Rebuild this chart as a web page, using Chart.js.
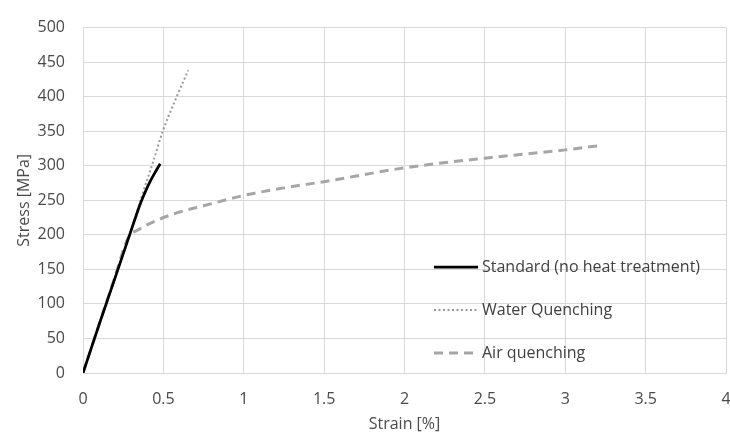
<!DOCTYPE html>
<html>
<head>
<meta charset="utf-8">
<script src="https://cdn.jsdelivr.net/npm/chart.js@4"></script>
<style>
  html, body { margin: 0; padding: 0; background: #fff; }
  #wrap { width: 730px; height: 434px; position: relative; }
</style>
</head>
<body>
<div id="wrap"><canvas id="stressStrain"></canvas></div>
<script>
// Strain [%] / Stress [MPa]
const standardStrain = [0, 0.1, 0.2, 0.29, 0.325, 0.355, 0.387, 0.417, 0.45, 0.48];
const standardStress = [0, 70, 138, 200, 224, 244, 262, 277, 291, 303];

const waterStrain = [0, 0.1, 0.2, 0.29, 0.36, 0.434, 0.496, 0.583, 0.654];
const waterStress = [0, 69, 138, 200, 252, 304, 350, 400, 438];

const airStrain = [0, 0.1, 0.2, 0.28, 0.35, 0.45, 0.6, 0.75, 1.0, 1.25, 1.5, 2.0, 2.5, 3.0, 3.21];
const airStress = [0, 70, 140, 195, 208, 220, 233, 242, 257, 268, 277, 297, 311, 323, 329];

const xTicks = [0, 0.5, 1, 1.5, 2, 2.5, 3, 3.5, 4];
const yTicks = [0, 50, 100, 150, 200, 250, 300, 350, 400, 450, 500];

const toPoints = (xs, ys) => xs.map((x, i) => ({ x: x, y: ys[i] }));

const FONT = '"Open Sans", sans-serif';
const TEXT = '#4a4a4a';
const GRID = '#d9d9d9';

// Legend drawn inside the plot, Excel style
const insideLegend = {
    id: 'insideLegend',
    afterDraw(chart) {
        const ctx = chart.ctx;
        const x0 = 434, x1 = 478, rows = [267, 310, 353];
        ctx.save();
        chart.data.datasets.forEach((ds, i) => {
            const y = rows[i];
            ctx.beginPath();
            ctx.setLineDash(ds.borderDash || []);
            ctx.strokeStyle = ds.borderColor;
            ctx.lineWidth = ds.borderWidth;
            ctx.moveTo(x0, y);
            ctx.lineTo(x1, y);
            ctx.stroke();
            ctx.setLineDash([]);
            ctx.fillStyle = '#404040';
            ctx.font = '16px ' + FONT;
            ctx.textBaseline = 'middle';
            ctx.fillText(ds.label, x1 + 4, y);
        });
        ctx.restore();
    }
};

new Chart(document.getElementById('stressStrain'), {
    type: 'scatter',
    data: {
        datasets: [{
            label: 'Standard (no heat treatment)',
            data: toPoints(standardStrain, standardStress),
            showLine: true,
            borderColor: '#000000',
            borderWidth: 2.75,
            pointRadius: 0,
            cubicInterpolationMode: 'monotone'
        }, {
            label: 'Water Quenching',
            data: toPoints(waterStrain, waterStress),
            showLine: true,
            borderColor: '#9a9a9a',
            borderWidth: 2,
            borderDash: [2, 2.5],
            pointRadius: 0,
            cubicInterpolationMode: 'monotone'
        }, {
            label: 'Air quenching',
            data: toPoints(airStrain, airStress),
            showLine: true,
            borderColor: '#a6a6a6',
            borderWidth: 3,
            borderDash: [9, 6],
            pointRadius: 0,
            cubicInterpolationMode: 'monotone'
        }]
    },
    options: {
        responsive: true,
        maintainAspectRatio: false,
        animation: false,
        layout: { padding: { top: 19, right: 4, left: 11, bottom: 0 } },
        plugins: {
            legend: { display: false },
            tooltip: { enabled: false }
        },
        scales: {
            x: {
                type: 'linear',
                min: 0,
                max: 4,
                afterBuildTicks: (axis) => { axis.ticks = xTicks.map(v => ({ value: v })); },
                afterFit: (axis) => {
                    axis.height = 61;
                    axis.paddingLeft = 0;
                    axis.paddingRight = 0;
                },
                ticks: {
                    color: TEXT,
                    font: { family: FONT, size: 16 },
                    padding: 17,
                    maxRotation: 0,
                    callback: (v) => String(v)
                },
                grid: { color: GRID, lineWidth: 1, drawTicks: false },
                border: { color: GRID },
                title: {
                    display: true,
                    text: 'Strain [%]',
                    color: TEXT,
                    font: { family: FONT, size: 16 },
                    padding: { top: 4, bottom: 0 }
                }
            },
            y: {
                min: 0,
                max: 500,
                afterBuildTicks: (axis) => { axis.ticks = yTicks.map(v => ({ value: v })); },
                afterFit: (axis) => { axis.width = 72; },
                ticks: {
                    color: TEXT,
                    font: { family: FONT, size: 16 },
                    padding: 18
                },
                grid: { color: GRID, lineWidth: 1, drawTicks: false },
                border: { color: GRID },
                title: {
                    display: true,
                    text: 'Stress [MPa]',
                    color: TEXT,
                    font: { family: FONT, size: 16 }
                }
            }
        }
    },
    plugins: [insideLegend]
});
</script>
</body>
</html>
